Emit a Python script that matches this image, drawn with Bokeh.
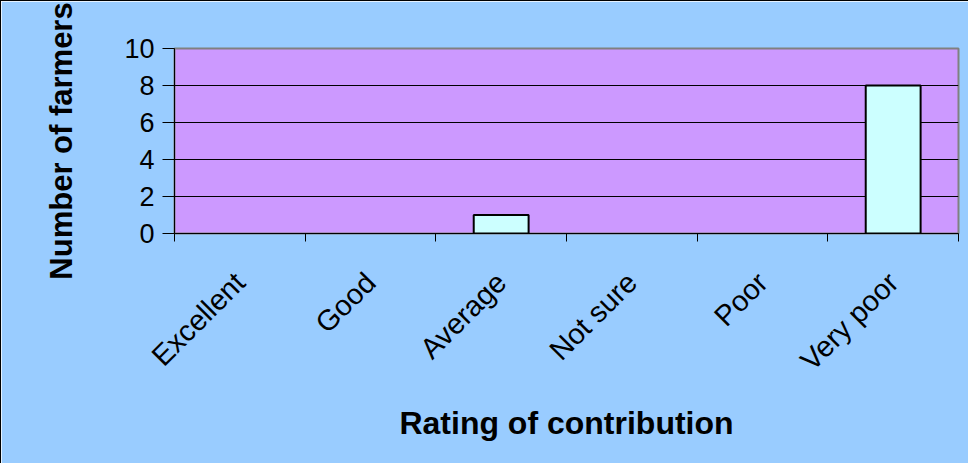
from bokeh.plotting import figure
from bokeh.models import FixedTicker, Range1d, ColumnDataSource, CDSView, BooleanFilter
from bokeh.embed import file_html
from bokeh.resources import INLINE
import math

categories = ["Excellent", "Good", "Average", "Not sure", "Poor", "Very poor"]
farmers = [0, 0, 1, 0, 0, 8]
y_ticks = [0, 2, 4, 6, 8, 10]

FONT = "Liberation Sans"

p = figure(width=968, height=463, output_backend="svg", toolbar_location=None,
           x_range=Range1d(0, len(categories)), y_range=Range1d(0, 10),
           min_border_left=173, min_border_right=11, min_border_top=47, min_border_bottom=231)
p.styles = {"border-left": "1px solid black", "border-top": "1px solid black"}

p.background_fill_color = "#CC99FF"
p.border_fill_color = "#99CCFF"
p.outline_line_color = "#808080"
p.outline_line_width = 2

centers = [i + 0.5 for i in range(len(categories))]
src = ColumnDataSource(data=dict(x=centers, top=farmers))
view = CDSView(filter=BooleanFilter([v > 0 for v in farmers]))
p.vbar(x="x", top="top", source=src, view=view, width=0.42, fill_color="#CCFFFF",
       line_color="black", line_width=2)

# x axis: labels at category centres, ticks at boundaries
xa = p.xaxis[0]
xa.ticker = FixedTicker(ticks=centers, minor_ticks=list(range(len(categories) + 1)))
xa.major_label_overrides = {c: lab for c, lab in zip(centers, categories)}
xa.major_label_orientation = math.pi / 4
xa.major_tick_out = 0
xa.major_tick_in = 0
xa.minor_tick_out = 8
xa.minor_tick_in = 0
xa.minor_tick_line_color = "black"
xa.axis_line_color = "black"
xa.major_label_standoff = 36
xa.major_label_text_font = FONT
xa.major_label_text_font_size = "29px"
xa.major_label_text_color = "black"
xa.axis_label = "Rating of contribution"
xa.axis_label_text_font = FONT
xa.axis_label_text_font_size = "32px"
xa.axis_label_text_font_style = "bold"
xa.axis_label_text_color = "black"
xa.axis_label_standoff = 14

ya = p.yaxis[0]
ya.ticker = FixedTicker(ticks=y_ticks, minor_ticks=[])
ya.major_tick_out = 12
ya.major_tick_in = 0
ya.major_tick_line_color = "black"
ya.axis_line_color = "black"
ya.major_label_standoff = 8
ya.major_label_text_font = FONT
ya.major_label_text_font_size = "27px"
ya.major_label_text_color = "black"
ya.axis_label = "Number of farmers"
ya.axis_label_text_font = FONT
ya.axis_label_text_font_size = "31px"
ya.axis_label_text_font_style = "bold"
ya.axis_label_text_color = "black"
ya.axis_label_standoff = 42

p.xgrid.visible = False
p.ygrid.ticker = FixedTicker(ticks=y_ticks)
p.ygrid.grid_line_color = "black"
p.ygrid.grid_line_width = 1

open("out.html", "w").write(file_html(p, INLINE))
